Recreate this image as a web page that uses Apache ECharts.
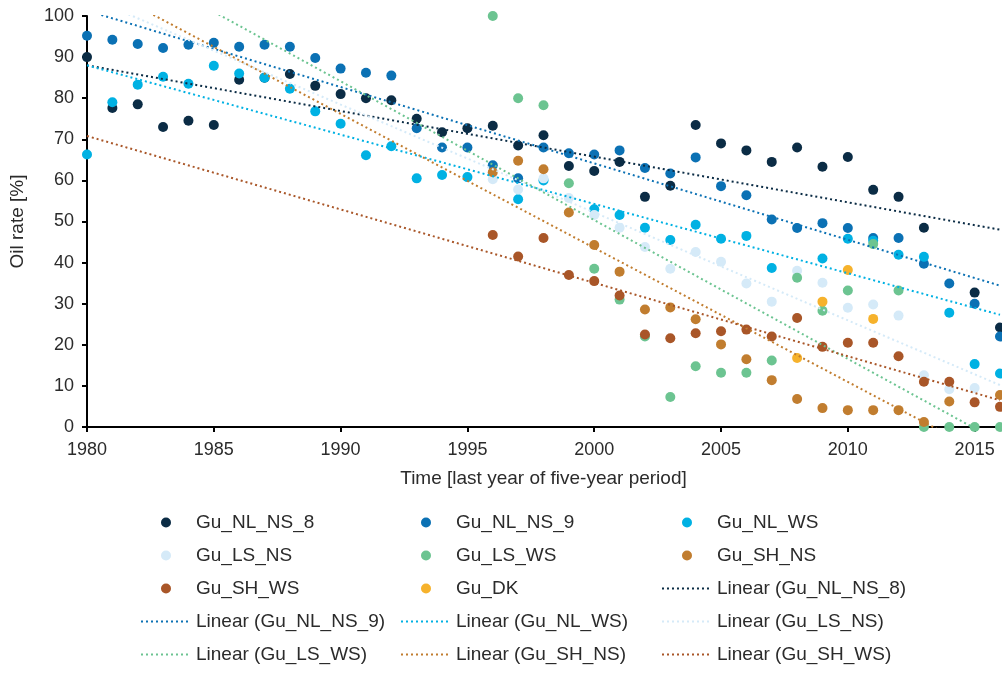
<!DOCTYPE html>
<html><head><meta charset="utf-8">
<script src="https://cdn.jsdelivr.net/npm/echarts@6/dist/echarts.min.js"></script>
<style>html,body{margin:0;padding:0;background:#fff}#c{width:1002px;height:677px}</style>
</head><body><div id="c"></div>
<script>
// ---- data ----
const years = [1980,1981,1982,1983,1984,1985,1986,1987,1988,1989,1990,1991,1992,1993,1994,1995,1996,1997,1998,1999,2000,2001,2002,2003,2004,2005,2006,2007,2008,2009,2010,2011,2012,2013,2014,2015,2016];
const gu_NL_NS_8 = [90,77.6,78.5,73,74.5,73.5,84.5,85,85.9,83,81,80,79.5,75,71.7,72.7,73.3,68.5,71,63.5,62.3,64.5,56,58.7,73.5,69,67.3,64.5,68,63.3,65.7,57.7,56,48.5,null,32.7,24.2];
const gu_NL_NS_9 = [95.2,94.2,93.2,92.2,93,93.5,92.5,93,92.5,89.8,87.2,86.2,85.5,72.7,68,68,63.7,60.5,68,66.6,66.3,67.3,63,61.7,65.6,58.6,56.4,50.5,48.4,49.6,48.4,46,46,39.7,34.9,30,22];
const gu_NL_WS = [66.3,79,83.3,85.2,83.5,87.9,86,85,82.3,76.8,73.8,66.1,68.3,60.5,61.3,60.8,null,55.4,60,null,53,51.6,48.5,45.5,49.2,45.8,46.5,38.7,null,41,45.8,45.3,41.9,41.4,27.8,15.3,13];
const gu_LS_NS = [null,null,null,null,null,null,null,null,null,null,null,null,null,null,null,null,60.3,57.8,60.5,55.7,51.6,48.5,43.8,38.5,42.6,40.2,34.9,30.5,38,35.1,29,29.8,27.1,12.6,9.2,9.5,null];
const gu_LS_WS = [null,null,null,null,null,null,null,null,null,null,null,null,null,null,null,null,100,80,78.3,59.3,38.5,31,22,7.3,14.8,13.2,13.2,16.2,36.3,28.3,33.2,44.5,33.2,0,0,0,0];
const gu_SH_NS = [null,null,null,null,null,null,null,null,null,null,null,null,null,null,null,null,62,64.8,62.7,52.2,44.3,37.8,28.6,29.1,26.2,20.1,16.5,11.4,6.8,4.6,4.1,4.1,4.1,1.2,6.2,null,7.8];
const gu_SH_WS = [null,null,null,null,null,null,null,null,null,null,null,null,null,null,null,null,46.7,41.5,46,37,35.5,32,22.5,21.6,22.8,23.3,23.7,22,26.5,19.5,20.5,20.5,17.2,11,11,6,4.9];
const gu_DK = [null,null,null,null,null,null,null,null,null,null,null,null,null,null,null,null,null,null,null,null,null,null,null,null,null,null,null,null,16.8,30.5,38.2,26.3,null,null,null,null,null];

// linear trend lines: values at first and last year of the axis
const trendYears = [1980, 2016];
const trend_NL_NS_8 = [88, 48];
const trend_NL_NS_9 = [101.3, 34.4];
const trend_NL_WS = [88, 27.3];
const trend_LS_NS = [104.7, 10.2];
const trend_LS_WS = [117.9, -3.7];
const trend_SH_NS = [108.8, -8.6];
const trend_SH_WS = [70.8, 6.5];

const xTicks = [1980,1985,1990,1995,2000,2005,2010,2015];

// ---- styles ----
const C = {
  NL_NS_8:'#0b2c45', NL_NS_9:'#0b71b4', NL_WS:'#00b1e3', LS_NS:'#d5eaf8',
  LS_WS:'#6cc491', SH_NS:'#c17d2f', SH_WS:'#a95628', DK:'#f6b22c'
};

function pts(vals){ const out=[]; years.forEach((y,i)=>{ if(vals[i]!=null) out.push([y, vals[i]]); }); return out; }
function trend(v){ return trendYears.map((y,i)=>[y, v[i]]); }

const scatterDefs = [
  ['Gu_NL_NS_8', gu_NL_NS_8, C.NL_NS_8],
  ['Gu_NL_NS_9', gu_NL_NS_9, C.NL_NS_9],
  ['Gu_NL_WS', gu_NL_WS, C.NL_WS],
  ['Gu_LS_NS', gu_LS_NS, C.LS_NS],
  ['Gu_LS_WS', gu_LS_WS, C.LS_WS],
  ['Gu_SH_NS', gu_SH_NS, C.SH_NS],
  ['Gu_SH_WS', gu_SH_WS, C.SH_WS],
  ['Gu_DK', gu_DK, C.DK]
];
const trendDefs = [
  ['Linear (Gu_NL_NS_8)', trend_NL_NS_8, C.NL_NS_8],
  ['Linear (Gu_NL_NS_9)', trend_NL_NS_9, C.NL_NS_9],
  ['Linear (Gu_NL_WS)', trend_NL_WS, C.NL_WS],
  ['Linear (Gu_LS_NS)', trend_LS_NS, C.LS_NS],
  ['Linear (Gu_LS_WS)', trend_LS_WS, C.LS_WS],
  ['Linear (Gu_SH_NS)', trend_SH_NS, C.SH_NS],
  ['Linear (Gu_SH_WS)', trend_SH_WS, C.SH_WS]
];
const trendNames = trendDefs.map(d => d[0]);

const series = [];
scatterDefs.forEach(([n, v, col]) => series.push({
  name:n, type:'scatter', data:pts(v), symbol:'circle', symbolSize:10,
  itemStyle:{color:col, opacity:1}, emphasis:{disabled:true}, z:2
}));
trendDefs.forEach(([n, v, col]) => series.push({
  name:n, type:'line', data:trend(v), symbol:'none', showSymbol:false,
  lineStyle:{color:col, width:2, type:[2,3]}, itemStyle:{color:col},
  emphasis:{disabled:true}, z:3, clip:true, silent:true
}));

const font = 'Liberation Sans, Arial, sans-serif';
const legendCommon = {
  orient:'vertical', top:513, padding:0, itemWidth:50, itemHeight:10, itemGap:14,
  textStyle:{fontFamily:font, fontSize:19, color:'#2b2b2b', lineHeight:19},
  selectedMode:false
};
function legendData(names){
  return names.map(n => trendNames.includes(n)
    ? {name:n, itemStyle:{color:'rgba(0,0,0,0)', opacity:0, borderWidth:0}}
    : {name:n});
}
const col1 = ['Gu_NL_NS_8','Gu_LS_NS','Gu_SH_WS','Linear (Gu_NL_NS_9)','Linear (Gu_LS_WS)'];
const col2 = ['Gu_NL_NS_9','Gu_LS_WS','Gu_DK','Linear (Gu_NL_WS)','Linear (Gu_SH_NS)'];
const col3 = ['Gu_NL_WS','Gu_SH_NS','Linear (Gu_NL_NS_8)','Linear (Gu_LS_NS)','Linear (Gu_SH_WS)'];

const chart = echarts.init(document.getElementById('c'), null, {renderer:'canvas'});
chart.setOption({
  animation:false,
  backgroundColor:'#fff',
  textStyle:{fontFamily:font},
  grid:{left:85, right:2, top:16, bottom:250, containLabel:false},
  xAxis:{
    type:'value', min:1980, max:2016, interval:5,
    name:'Time [last year of five-year period]', nameLocation:'middle', nameGap:42,
    nameTextStyle:{fontFamily:font, fontSize:19, color:'#2b2b2b'},
    axisLine:{show:true, onZero:false, lineStyle:{color:'#000', width:2}},
    axisTick:{show:true, length:5, lineStyle:{color:'#000', width:2}},
    splitLine:{show:false},
    axisLabel:{fontFamily:font, fontSize:18, color:'#2b2b2b', margin:14, showMaxLabel:false,
      formatter:v => xTicks.includes(v) ? String(v) : ''}
  },
  yAxis:{
    type:'value', min:0, max:100, interval:10,
    name:'Oil rate [%]', nameLocation:'middle', nameGap:60,
    nameTextStyle:{fontFamily:font, fontSize:19, color:'#2b2b2b'},
    axisLine:{show:true, lineStyle:{color:'#000', width:2}},
    axisTick:{show:true, length:5, lineStyle:{color:'#000', width:2}},
    splitLine:{show:false},
    axisLabel:{fontFamily:font, fontSize:18, color:'#2b2b2b', margin:13}
  },
  legend:[
    Object.assign({left:140, data:legendData(col1)}, legendCommon),
    Object.assign({left:400, data:legendData(col2)}, legendCommon),
    Object.assign({left:661, data:legendData(col3)}, legendCommon)
  ],
  series
});
</script></body></html>
